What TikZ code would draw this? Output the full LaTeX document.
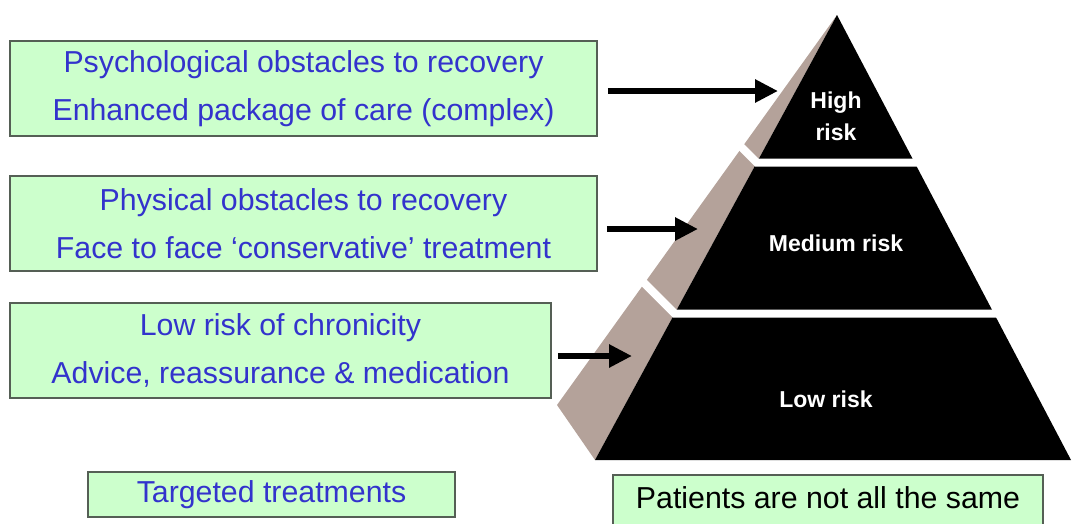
\documentclass[tikz,border=0pt]{standalone}
\usepackage{fontspec}
\setmainfont{Liberation Sans}
\usetikzlibrary{arrows.meta,calc}
\definecolor{boxgreen}{RGB}{204,255,204}
\definecolor{boxblue}{RGB}{51,51,204}
\definecolor{boxline}{RGB}{85,95,85}
\definecolor{sideface}{RGB}{180,162,154}
\tikzset{
  treat/.style={draw=boxline, line width=1.5pt, fill=boxgreen, text=boxblue,
    align=center, inner sep=0pt, font=\fontsize{30.3}{48}\selectfont},
  tier/.style={text=white, align=center, font=\bfseries\fontsize{23}{32}\selectfont},
  arr/.style={-{Triangle[length=23pt,width=22pt]}, line width=6pt},
  gap/.style={white, line width=8pt}
}
\begin{document}
\begin{tikzpicture}[x=1pt,y=-1pt]
\useasboundingbox (0,0) rectangle (1072,523);
% pyramid side
\fill[sideface] (837,15) -- (557,405) -- (595,460) -- cycle;
% pyramid front
\fill[black] (837,15) -- (595,460) -- (1071,460) -- cycle;
% gaps between tiers
\draw[gap] (736.8,142.5) -- (756.8,162.5) -- (1080,162.5);
\draw[gap] (640.6,279.5) -- (674.6,313.5) -- (1080,313.5);
% tier labels
\node[tier] (high) at (836,116) {High\\risk};
\node[tier] (medium) at (836,243) {Medium risk};
\node[tier] (low) at (826,399) {Low risk};
% treatment boxes
\node[treat, minimum width=587pt, minimum height=95pt] (psy) at (303.5,88.5)
  {Psychological obstacles to recovery\\Enhanced package of care (complex)};
\node[treat, minimum width=587pt, minimum height=95pt] (phys) at (303.5,223.5)
  {Physical obstacles to recovery\\Face to face ‘conservative’ treatment};
\node[treat, minimum width=541pt, minimum height=95pt] (chron) at (280.5,350.5)
  {Low risk of chronicity\\Advice, reassurance \& medication};
\node[treat, minimum width=367pt, minimum height=45pt] (targ) at (271.5,494.5)
  {Targeted treatments};
\node[treat, text=black, minimum width=430pt, anchor=north, inner ysep=13pt,
  text height=21pt, text depth=20pt] (same) at (828,474) {Patients are not all the same};
% arrows
\coordinate (hitip) at (778,91);
\coordinate (medtip) at (698,229);
\coordinate (lowtip) at (632,356);
\draw[arr] ($(psy.east |- hitip)+(10,0)$) -- (hitip);
\draw[arr] ($(phys.east |- medtip)+(9,0)$) -- (medtip);
\draw[arr] ($(chron.east |- lowtip)+(6,0)$) -- (lowtip);
\end{tikzpicture}
\end{document}
